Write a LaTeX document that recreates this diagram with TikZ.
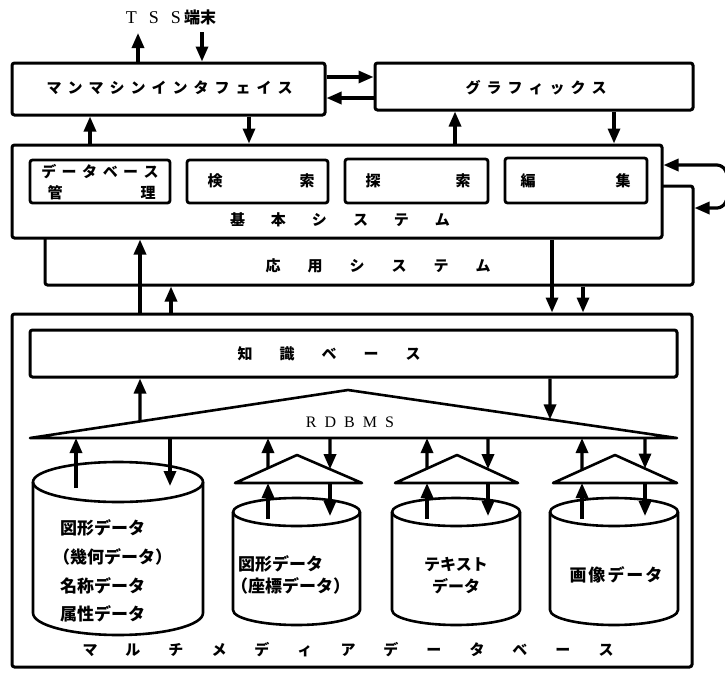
\documentclass[tikz,border=0pt]{standalone}
\usepackage{fontspec}
\newfontfamily\jp{Noto Sans CJK JP}
\newfontfamily\latn{Liberation Serif}
\usetikzlibrary{arrows.meta,calc}
\def\spacedloop#1#2{#1\ifx#2\relax\else\hspace{\spacedgap}\expandafter\spacedloop\expandafter#2\fi}
\newcommand\spacedtext[2]{\def\spacedgap{#1}\spacedloop#2\relax}
\begin{document}
\begin{tikzpicture}[x=1pt,y=-1pt,
  box/.style={draw, line width=3pt, rounded corners=2.5pt, fill=white, inner sep=0pt},
  ibox/.style={draw, line width=2.8pt, rounded corners=2.5pt, fill=white, inner sep=0pt},
  arr/.style={line width=3.2pt, -{Triangle[length=15pt,width=12pt]}},
  shp/.style={line width=2.6pt, line join=round},
  lbl/.style={font={\jp\bfseries\fontsize{15}{18}\selectfont}, inner sep=0pt},
  clbl/.style={font={\jp\bfseries\fontsize{17}{20}\selectfont}, inner sep=0pt},
  lat/.style={font={\latn\fontsize{18}{20}\selectfont}, inner sep=0pt}]
\useasboundingbox (0,0) rectangle (725,672);
\fill[white] (0,0) rectangle (725,672);

% top boxes
\node[lat] (tss) at (171,17) {T\hspace{12pt}S\hspace{12pt}S\hspace{3pt}{\jp\bfseries\fontsize{16}{18}\selectfont 端末}};
\node[box, minimum width=313pt, minimum height=52pt] (mmi) at (168.5,89) {};
\node[lbl] (mmit) at (169.5,88) {\spacedtext{6pt}{マンマシンインタフェイス}};
\node[box, minimum width=318pt, minimum height=47pt] (gfx) at (534,86.5) {};
\node[lbl] (gfxt) at (536,88) {\spacedtext{6pt}{グラフィックス}};
\coordinate (tssup) at (138,33);
\coordinate (tssdn) at (202,32);
\draw[arr] (mmi.north -| tssup) -- (tssup);
\draw[arr] (tssdn) -- (mmi.north -| tssdn);
\draw[arr] (mmi.east |- 0,77) -- (gfx.west |- 0,77);
\draw[arr] (gfx.west |- 0,98) -- (mmi.east |- 0,98);

% application and basic systems
\node[box, minimum width=648pt, minimum height=99pt] (oyo) at (369,235.5) {};
\node[box, minimum width=650pt, minimum height=93pt] (basic) at (337,191.5) {};
\node[ibox, minimum width=140pt, minimum height=43pt] (dbm) at (100,181.5) {};
\node[lbl, align=center, font={\jp\bfseries\fontsize{15}{21}\selectfont}] (dbmt) at (100,182)
  {\spacedtext{5.5pt}{データベース}\\\hspace{3pt}管\hspace{78pt}理};
\node[ibox, minimum width=141pt, minimum height=43pt] (ken) at (257.5,181.5) {};
\node[lbl] (kent) at (261,181) {検\hspace{77pt}索};
\node[ibox, minimum width=143pt, minimum height=44pt] (tan) at (416.5,181) {};
\node[lbl] (tant) at (418,181) {探\hspace{75pt}索};
\node[ibox, minimum width=142pt, minimum height=45pt] (hen) at (576,180.5) {};
\node[lbl] (hent) at (575.5,181) {編\hspace{80pt}集};
\node[lbl] (basict) at (340,220) {\spacedtext{26pt}{基本システム}};
\node[lbl] (oyot) at (378,266) {\spacedtext{27pt}{応用システム}};

\draw[arr] (basic.north -| 90,0) -- (mmi.south -| 90,0);
\draw[arr] (mmi.south -| 249,0) -- (basic.north -| 249,0);
\draw[arr] (basic.north -| 455,0) -- (gfx.south -| 455,0);
\draw[arr] (gfx.south -| 614,0) -- (basic.north -| 614,0);
\draw[arr, rounded corners=6pt] (727,174) -- (723,165) -- (basic.east |- 0,165);
\draw[arr, rounded corners=6pt] (727,199) -- (723,208) -- (oyo.east |- 0,208);

% multimedia database
\node[box, minimum width=680pt, minimum height=353pt] (mm) at (352,490.5) {};
\node[lbl] (mmt) at (348,650) {\spacedtext{28pt}{マルチメディアデータベース}};
\draw[arr] (mm.north -| 140,0) -- (basic.south -| 140,0);
\draw[arr] (mm.north -| 171,0) -- (oyo.south -| 171,0);
\draw[arr] (basic.south -| 552,0) -- (mm.north -| 552,0);
\draw[arr] (oyo.south -| 583,0) -- (mm.north -| 583,0);

\node[box, minimum width=647pt, minimum height=47pt] (kb) at (353.5,353.5) {};
\node[lbl] (kbt) at (329,354) {\spacedtext{27pt}{知識ベース}};

% RDBMS triangle
\coordinate (rl) at (30,438);
\coordinate (ra) at (348,390);
\coordinate (rr) at (677,438);
\draw[shp] (rl) -- (ra) -- (rr) -- cycle;
\node[inner sep=0pt, font={\latn\fontsize{16}{18}\selectfont}] (rdbms) at (350,422) {\spacedtext{8pt}{RDBMS}};
\draw[arr] ($(rl)!0.346!(ra)$) -- (kb.south -| 140,0);
\draw[arr] (kb.south -| 550,0) -- ($(ra)!0.614!(rr)$);

% cylinder 1
\draw[shp, fill=white] (33,482) -- (33,613) arc[start angle=180, end angle=360, x radius=85pt, y radius=22pt] -- (203,482);
\draw[shp] (118,482) ellipse[x radius=85pt, y radius=20pt];
\coordinate (c1a) at (76,488);
\coordinate (c1b) at (170,486);
\draw[arr] (c1a) -- (rl -| c1a);
\draw[arr] (rl -| c1b) -- (c1b);
\node[clbl, align=left, anchor=west, font={\jp\bfseries\fontsize{17}{28.7}\selectfont}] (c1t) at (60,571)
  {図形データ\\\hspace*{-7pt}（幾何データ）\\名称データ\\属性データ};

% small triangles and cylinders
\foreach \n/\l/\a/\r/\u/\d/\tu/\td in {2/235/297/362/268/330/0.532/0.508,
                                       3/395/457/518/427/488/0.516/0.508,
                                       4/553/615/677/582/645/0.468/0.484}{
  \coordinate (t\n l) at (\l,483);
  \coordinate (t\n a) at (\a,455);
  \coordinate (t\n r) at (\r,483);
  \draw[shp] (t\n l) -- (t\n a) -- (t\n r) -- cycle;
  \coordinate (u\n) at (\u,519);
  \coordinate (d\n) at (\d,516);
  \draw[arr] ($(t\n l)!\tu!(t\n a)$) -- (rl -| u\n);
  \draw[arr] (rl -| d\n) -- ($(t\n a)!\td!(t\n r)$);
}
\foreach \n/\l/\c/\r in {2/233/296.5/360, 3/392/456/520, 4/550/614/678}{
  \draw[shp, fill=white] (\l,512) -- (\l,610) arc[start angle=180, end angle=360, x radius=\c pt-\l pt, y radius=15pt] -- (\r,512);
  \draw[shp] (\c,512) ellipse[x radius=\c pt-\l pt, y radius=14pt];
}
\foreach \n in {2,3,4}{
  \draw[arr] (u\n) -- (t\n l -| u\n);
  \draw[arr] (t\n l -| d\n) -- (d\n);
}
\node[clbl, align=left, anchor=west, font={\jp\bfseries\fontsize{17}{22}\selectfont}] (c2t) at (238,575)
  {図形データ\\\hspace*{-7pt}（座標データ）};
\node[clbl, align=center, font={\jp\bfseries\fontsize{16}{22}\selectfont}] (c3t) at (456,576)
  {テキスト\\データ};
\node[clbl] (c4t) at (616,575) {\spacedtext{2pt}{画像データ}};
\end{tikzpicture}
\end{document}
